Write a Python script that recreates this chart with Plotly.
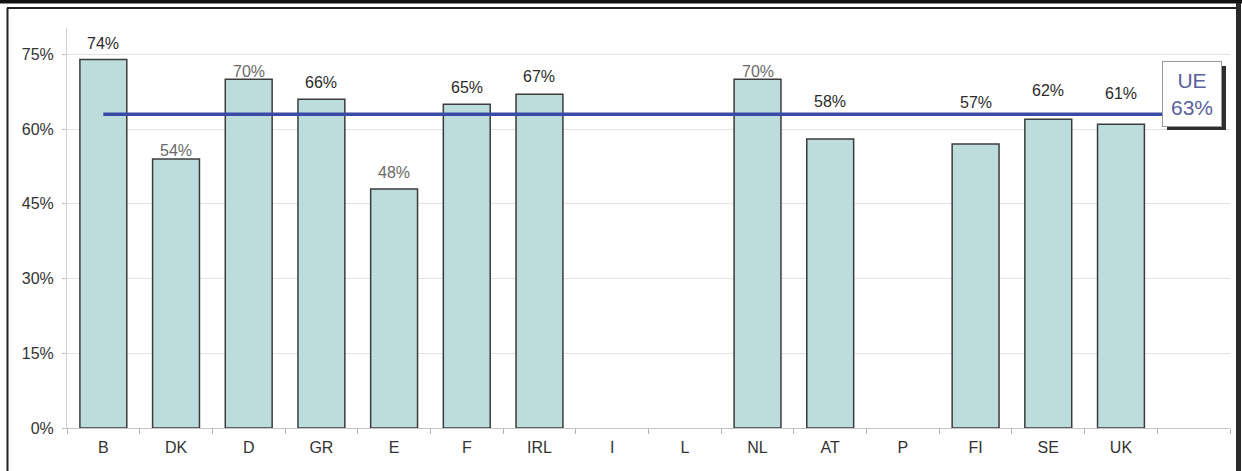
import plotly.graph_objects as go

# ---- data ----
categories = ["B", "DK", "D", "GR", "E", "F", "IRL", "I", "L", "NL", "AT", "P", "FI", "SE", "UK"]
values = [74, 54, 70, 66, 48, 65, 67, None, None, 70, 58, None, 57, 62, 61]
eu_label = "UE"
eu_value = 63
y_ticks = [0, 15, 30, 45, 60, 75]

# ---- style / layout (not data) ----
label_shift = [16, 9, 8, 17, 16, 17, 18, 0, 0, 8, 38, 0, 42, 29, 31]
label_color = ["#2b2b2b", "#6a6a6a", "#6a6a6a", "#2b2b2b", "#6a6a6a", "#2b2b2b", "#2b2b2b",
               "#000", "#000", "#6a6a6a", "#2b2b2b", "#000", "#2b2b2b", "#2b2b2b", "#2b2b2b"]
FONT = "Liberation Sans, Arial, sans-serif"
FS = 16
W, H = 1242, 471
ML, MR, MT, MB = 67, 12, 28, 43
PW, PH = W - ML - MR, H - MT - MB


def px_x(px):
    return (px - ML) / PW


def px_y(py):
    return (H - MB - py) / PH


n_slots = len(categories) + 1  # extra empty slot for the EU label
xs = list(range(len(categories)))
fig = go.Figure()

fig.add_trace(go.Bar(
    x=xs, y=values, width=0.645,
    marker=dict(color="#bddcdc", line=dict(color="#3c3c3c", width=1.5)),
    hoverinfo="skip", showlegend=False,
))

# EU average line
fig.add_trace(go.Scatter(
    x=[0, len(categories)], y=[eu_value, eu_value], mode="lines",
    line=dict(color="#3a4aa8", width=3.5), hoverinfo="skip", showlegend=False,
))

annotations = []
for i, v in enumerate(values):
    if v is None:
        continue
    annotations.append(dict(
        x=i, y=v, xref="x", yref="y", text=f"{v}%", showarrow=False,
        yanchor="middle", yshift=label_shift[i],
        font=dict(family=FONT, size=FS, color=label_color[i]),
    ))

# EU label box
annotations.append(dict(
    x=px_x(1191.5), y=px_y(94), xref="paper", yref="paper",
    xanchor="center", yanchor="middle",
    text=f"{eu_label}<br>{eu_value}%", showarrow=False,
    font=dict(family=FONT, size=21, color="#5a5f9e"),
    bgcolor="white", bordercolor="#9a9a9a", borderwidth=1,
    width=56, height=62, align="center",
))

shapes = [
    # shadow of EU box
    dict(type="rect", xref="paper", yref="paper",
         x0=px_x(1167), x1=px_x(1226), y0=px_y(130), y1=px_y(66),
         fillcolor="#2e2e2e", line=dict(width=0), layer="above"),
    # frame
    dict(type="rect", xref="paper", yref="paper",
         x0=px_x(0), x1=px_x(W), y0=px_y(0), y1=px_y(3.5),
         fillcolor="#111", line=dict(width=0), layer="above"),
    dict(type="line", xref="paper", yref="paper",
         x0=px_x(7), x1=px_x(1238), y0=px_y(8), y1=px_y(8),
         line=dict(color="#222", width=2), layer="above"),
    dict(type="line", xref="paper", yref="paper",
         x0=px_x(7.5), x1=px_x(7.5), y0=px_y(8), y1=px_y(H + 5),
         line=dict(color="#222", width=2), layer="above"),
    dict(type="rect", xref="paper", yref="paper",
         x0=px_x(1236), x1=px_x(1241), y0=px_y(H + 5), y1=px_y(3),
         fillcolor="#2a2a2a", line=dict(width=0), layer="above"),
]

fig.update_layout(
    width=W, height=H,
    margin=dict(l=ML, r=MR, t=MT, b=MB, pad=0),
    paper_bgcolor="white", plot_bgcolor="white",
    font=dict(family=FONT, size=FS, color="#333"),
    annotations=annotations,
    shapes=shapes,
    xaxis=dict(
        range=[-0.5, n_slots - 0.5],
        tickmode="array", tickvals=xs, ticktext=categories,
        ticks="", showgrid=False, zeroline=False,
        showline=True, linecolor="#c4c4c4", linewidth=1,
        tickfont=dict(family=FONT, size=FS, color="#333"),
        ticklabelstandoff=5,
        minor=dict(tickmode="array", tickvals=[i - 0.5 for i in range(n_slots + 1)],
                   ticks="outside", ticklen=5, tickcolor="#b5b5b5", showgrid=False),
    ),
    yaxis=dict(
        range=[0, 80.3],
        tickmode="array", tickvals=y_ticks, ticktext=[f"{t}%" for t in y_ticks],
        showgrid=True, gridcolor="#e2e2e2", gridwidth=1, zeroline=False,
        showline=True, linecolor="#d0d0d0", linewidth=1,
        ticks="outside", ticklen=4, tickcolor="#c0c0c0",
        tickfont=dict(family=FONT, size=FS, color="#333"),
        ticklabelstandoff=5,
    ),
)

fig.write_html(
    "out.html",
    config={"displayModeBar": False, "staticPlot": True},
    post_script="document.body.style.margin='0';document.body.style.overflow='hidden';",
)
